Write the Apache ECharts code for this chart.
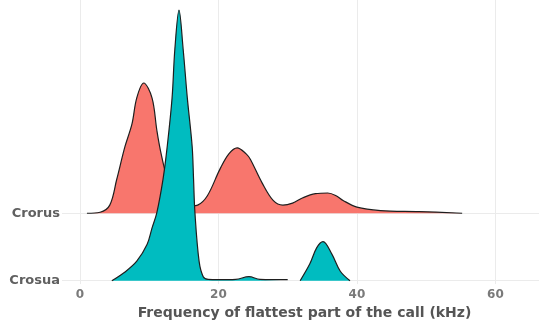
<!DOCTYPE html>
<html><head><meta charset="utf-8">
<script src="https://cdn.jsdelivr.net/npm/echarts@6/dist/echarts.min.js"></script>
<style>html,body{margin:0;padding:0;background:#fff}#c{width:539px;height:325px}</style>
</head><body><div id="c"></div>
<script>
// Ridge rows (bottom to top) and their baselines
const categories = ['Crosua', 'Crorus'];
const xTicks = [0, 20, 40, 60];
// Crorus density outline: [kHz, relative height in row units]
const crorusX = [1.0, 2.9, 4.3, 5.3, 6.5, 7.5, 8.2, 9.2, 10.4, 11.1, 11.6, 12.5, 13.5, 14.5, 15.5, 16.3, 17.0, 18.4, 20.2, 21.5, 22.7, 24.0, 24.6, 26.3, 27.9, 29.3, 30.7, 32.2, 34.0, 35.8, 37.0, 38.0, 40.0, 43.4, 49.0, 55.2];
const crorusY = [0, 0.015, 0.12, 0.5, 0.99, 1.32, 1.71, 1.93, 1.71, 1.23, 0.94, 0.55, 0.3, 0.16, 0.11, 0.11, 0.12, 0.26, 0.65, 0.88, 0.97, 0.88, 0.8, 0.45, 0.19, 0.12, 0.15, 0.23, 0.29, 0.3, 0.26, 0.19, 0.09, 0.04, 0.025, 0];
// Crosua density outline (null = gap)
const crosuaX = [4.6, 6.5, 8.2, 9.7, 10.4, 11.1, 12.0, 12.6, 13.3, 13.7, 14.3, 14.9, 15.5, 16.2, 16.4, 16.6, 17.2, 17.8, 18.5, 20.0, 22.5, 24.4, 26.0, 30.0, 31.0, 31.8, 33.2, 34.2, 35.1, 36.4, 37.6, 39.0];
const crosuaY = [0, 0.13, 0.29, 0.54, 0.78, 1.01, 1.51, 1.99, 2.71, 3.43, 4.01, 3.43, 2.71, 1.99, 1.51, 1.01, 0.29, 0.06, 0.02, 0.015, 0.02, 0.06, 0.02, 0.015, null, 0, 0.25, 0.49, 0.58, 0.39, 0.14, 0];

const crorusBase = categories.indexOf('Crorus');
const crosuaBase = categories.indexOf('Crosua');
const yMin = -0.05, yMax = 4.16;

const chart = echarts.init(document.getElementById('c'), null, {renderer: 'canvas'});
const lineCol = '#1e1e1e';
chart.setOption({
  animation: false,
  grid: {left: 62, right: 0, top: 0, bottom: 35},
  xAxis: {
    type: 'value', min: -2.6, max: 66.3,
    axisLine: {show: false}, axisTick: {show: false, customValues: xTicks},
    axisLabel: {customValues: xTicks, color: '#7a7a7a', fontSize: 12, fontWeight: 'bold', fontFamily: 'DejaVu Sans', margin: 5},
    splitLine: {show: true, lineStyle: {color: '#ebebeb', width: 1}},
    name: 'Frequency of flattest part of the call (kHz)', nameLocation: 'middle', nameGap: 15,
    nameTextStyle: {color: '#555', fontSize: 14, fontWeight: 'bold', fontFamily: 'DejaVu Sans', padding: [0, 0, 0, 8]}
  },
  yAxis: [{
    type: 'value', min: yMin - crosuaBase, max: yMax - crosuaBase,
    axisLine: {show: false}, axisTick: {show: false, customValues: [0, 1]},
    axisLabel: {customValues: [0, 1], color: '#606060', fontSize: 13, fontWeight: 'bold', fontFamily: 'DejaVu Sans', margin: 2,
      padding: [0, 0, 4, 0],
      formatter: v => categories[Math.round(v)] || ''},
    splitLine: {show: true, lineStyle: {color: '#ebebeb', width: 1}}
  }, {
    type: 'value', min: yMin - crorusBase, max: yMax - crorusBase, show: false,
    splitLine: {show: false}
  }],
  series: [
    {type: 'line', yAxisIndex: 1, z: 2, symbol: 'none', smooth: 0.35,
     lineStyle: {color: lineCol, width: 1.2},
     areaStyle: {color: '#F8766D', opacity: 1},
     data: crorusX.map((x, i) => [x, crorusY[i]])},
    {type: 'line', yAxisIndex: 0, z: 3, symbol: 'none', smooth: 0.35, connectNulls: false,
     lineStyle: {color: lineCol, width: 1.2},
     areaStyle: {color: '#00BCC0', opacity: 1},
     data: crosuaX.map((x, i) => [x, crosuaY[i]])}
  ]
});
</script></body></html>
